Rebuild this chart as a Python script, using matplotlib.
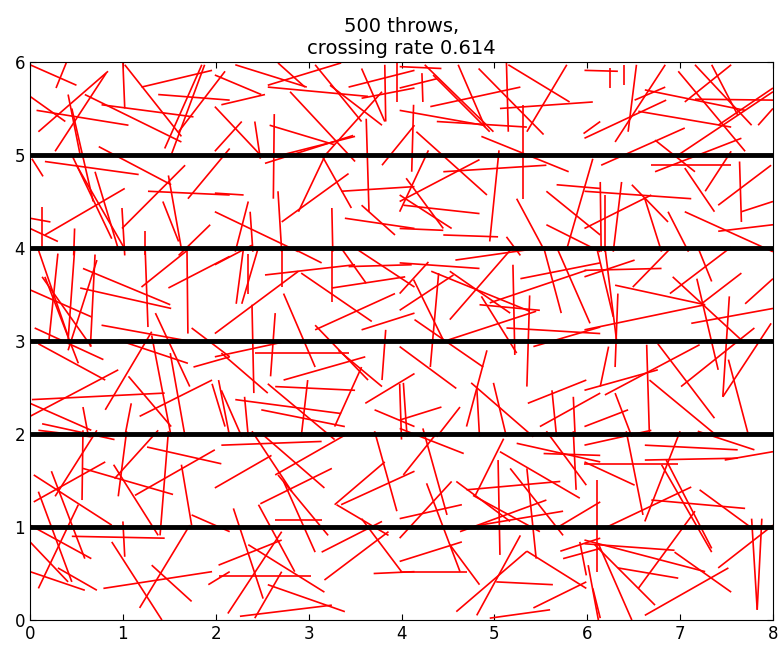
import matplotlib
matplotlib.use('Agg')
import matplotlib.pyplot as plt
from matplotlib.collections import LineCollection

# needles, (x0, y0, x1, y1), grouped by board region
top_left = [
    (0.00, 5.97, 0.50, 5.75), (0.28, 5.72, 0.39, 5.99), (0.09, 5.25, 0.84, 5.90),
    (0.27, 5.04, 0.82, 5.88), (0.00, 5.63, 0.38, 5.36), (0.07, 5.48, 1.06, 5.32),
    (0.41, 5.65, 0.54, 5.00), (0.45, 5.50, 0.68, 4.50), (1.00, 5.99, 1.02, 5.50),
    (1.02, 5.97, 1.63, 5.20), (0.77, 5.54, 1.76, 5.41), (0.59, 5.65, 1.63, 5.14),
    (1.20, 5.73, 1.96, 5.91), (1.38, 5.65, 2.15, 5.59), (1.45, 5.07, 1.85, 5.97),
    (1.52, 5.00, 1.88, 5.97), (1.60, 5.25, 2.10, 5.90), (1.70, 4.53, 2.15, 5.07),
    (0.74, 5.09, 1.52, 4.68), (0.16, 4.93, 1.17, 4.79), (0.45, 5.00, 0.88, 4.10),
    (0.50, 4.89, 1.02, 3.99), (0.70, 4.82, 0.95, 3.99), (1.02, 4.64, 0.16, 4.14),
    (1.27, 4.61, 2.15, 4.57), (1.49, 4.78, 1.63, 3.99), (1.67, 4.89, 0.99, 4.21),
    (0.02, 4.96, 0.14, 4.77), (0.13, 4.44, 0.13, 3.99), (0.00, 4.32, 0.22, 4.28),
    (0.99, 4.43, 1.02, 3.92), (1.43, 4.50, 1.60, 4.07), (1.94, 4.25, 1.60, 3.92),
    (0.00, 4.21, 0.30, 4.07), (0.48, 4.21, 0.47, 3.92), (1.24, 4.18, 1.24, 3.92),
]
top_mid_left = [
    (1.99, 5.86, 2.49, 5.65), (2.06, 5.54, 2.53, 5.65), (2.21, 5.97, 2.98, 5.73),
    (2.67, 5.99, 2.96, 5.73), (2.56, 5.75, 3.35, 5.99), (2.56, 5.73, 3.64, 5.63),
    (2.80, 5.68, 3.50, 4.93), (3.07, 5.97, 3.57, 5.36), (3.23, 5.75, 3.79, 5.32),
    (3.57, 5.93, 3.82, 5.36), (3.43, 5.73, 4.14, 5.91), (3.57, 5.61, 4.14, 5.72),
    (3.82, 5.97, 3.83, 5.36), (3.95, 5.99, 3.95, 5.57), (2.28, 5.36, 1.99, 5.04),
    (2.42, 5.36, 2.48, 4.96), (2.63, 5.44, 2.62, 4.53), (2.58, 5.32, 3.28, 5.11),
    (2.71, 5.00, 3.50, 5.20), (2.53, 4.91, 3.48, 5.21), (3.18, 5.00, 3.79, 5.68),
    (3.62, 5.39, 3.65, 4.39), (1.99, 5.52, 2.48, 5.00), (3.14, 5.00, 3.46, 4.43),
    (3.18, 5.00, 2.89, 4.39), (2.67, 4.61, 2.71, 3.96), (1.99, 4.59, 2.30, 4.57),
    (2.35, 4.50, 2.21, 3.96), (2.37, 4.39, 2.40, 3.96), (2.71, 4.28, 3.43, 4.80),
    (1.99, 4.39, 2.89, 3.96), (3.35, 4.61, 4.14, 4.66), (3.39, 4.32, 4.14, 4.21),
    (3.57, 4.46, 3.93, 4.14), (3.25, 4.43, 3.26, 3.96), (3.79, 4.89, 4.14, 5.32),
]
top_mid_right = [
    (3.98, 5.95, 4.43, 5.93), (3.98, 5.72, 4.38, 5.82), (4.22, 5.88, 4.23, 5.57),
    (4.25, 5.97, 4.99, 5.25), (4.34, 5.86, 4.95, 5.25), (4.61, 5.97, 4.90, 5.30),
    (4.83, 5.93, 5.53, 5.22), (4.31, 5.52, 5.28, 5.73), (3.98, 5.48, 4.88, 5.32),
    (4.38, 5.36, 5.35, 5.30), (5.13, 5.99, 5.15, 5.25), (5.15, 5.97, 5.81, 5.57),
    (5.31, 5.54, 5.31, 4.53), (5.06, 5.50, 6.06, 5.57), (5.35, 5.25, 5.78, 5.97),
    (5.96, 5.23, 6.14, 5.36), (4.13, 5.54, 4.11, 4.82), (4.16, 5.25, 4.92, 4.57),
    (4.86, 5.20, 5.80, 4.82), (5.05, 5.05, 4.95, 4.07), (4.84, 4.95, 3.98, 4.50),
    (3.98, 4.39, 4.29, 5.05), (3.98, 4.57, 4.54, 4.21), (4.05, 4.75, 4.45, 4.21),
    (4.45, 4.82, 5.56, 4.89), (5.24, 4.53, 5.53, 3.99), (5.56, 4.61, 6.14, 4.14),
    (5.67, 4.68, 6.14, 4.64), (5.78, 3.99, 6.06, 4.96), (3.98, 4.21, 4.45, 4.19),
    (4.45, 4.14, 5.04, 4.12), (5.56, 4.25, 6.14, 3.96), (5.13, 4.12, 5.28, 3.92),
    (4.02, 4.46, 4.84, 4.37),
]
top_right = [
    (5.97, 5.91, 6.33, 5.90), (6.24, 5.93, 6.24, 5.72), (6.40, 5.97, 6.40, 5.75),
    (6.53, 5.97, 6.44, 5.25), (6.51, 5.59, 6.84, 5.73), (6.62, 5.70, 7.70, 5.48),
    (5.97, 5.18, 6.85, 5.59), (6.30, 5.14, 6.84, 5.97), (6.98, 5.90, 7.70, 5.04),
    (7.05, 5.57, 7.55, 5.97), (7.16, 5.97, 7.77, 5.32), (7.34, 5.97, 7.62, 5.43),
    (7.16, 5.60, 8.00, 5.59), (6.55, 5.47, 7.55, 5.30), (7.84, 5.32, 8.00, 5.50),
    (7.41, 5.32, 8.00, 5.72), (6.98, 5.00, 8.00, 5.68), (6.15, 4.89, 7.05, 5.29),
    (6.73, 5.16, 7.16, 4.82), (6.69, 4.89, 7.55, 4.89), (6.73, 4.82, 7.66, 5.18),
    (7.05, 4.86, 7.37, 4.39), (7.27, 4.61, 7.55, 5.04), (7.64, 4.93, 7.66, 4.28),
    (7.41, 4.46, 7.98, 4.89), (5.97, 4.21, 6.69, 4.57), (6.14, 4.71, 6.15, 3.96),
    (6.19, 4.57, 6.19, 3.96), (6.37, 4.71, 6.28, 3.96), (5.97, 4.61, 7.12, 4.53),
    (6.48, 4.68, 6.87, 4.28), (6.62, 4.53, 6.80, 3.96), (6.87, 4.39, 7.09, 3.96),
    (7.05, 4.39, 8.00, 3.96), (7.41, 4.18, 8.00, 4.25), (7.66, 4.39, 8.00, 4.50),
]
mid_left = [
    (0.09, 3.98, 0.41, 3.05), (0.30, 3.94, 0.20, 2.97), (0.48, 3.98, 0.41, 3.01),
    (0.70, 3.93, 0.65, 2.94), (0.41, 2.90, 0.72, 3.87), (0.57, 3.78, 1.51, 3.39),
    (0.54, 3.57, 1.52, 3.35), (0.00, 3.55, 0.66, 3.26), (0.13, 3.69, 0.66, 2.94),
    (0.16, 3.69, 0.52, 2.76), (1.24, 3.98, 1.27, 3.15), (1.20, 3.58, 1.70, 3.98),
    (1.69, 3.98, 1.70, 3.08), (1.49, 3.57, 2.15, 3.91), (0.77, 3.17, 1.76, 2.99),
    (1.35, 3.30, 1.72, 2.51), (1.74, 3.14, 2.15, 2.83), (0.81, 2.26, 1.31, 3.10),
    (0.05, 3.14, 0.79, 2.80), (0.95, 3.01, 1.70, 2.76), (0.00, 2.19, 0.95, 2.69),
    (0.09, 2.97, 0.81, 2.58), (1.06, 2.62, 1.52, 2.08), (1.31, 3.06, 1.52, 1.97),
    (1.51, 2.87, 1.67, 1.97), (1.76, 2.72, 2.15, 2.83), (0.02, 2.37, 1.45, 2.44),
    (0.00, 2.33, 0.66, 2.04), (0.13, 2.11, 0.91, 1.94), (1.09, 2.33, 1.02, 1.97),
    (1.18, 2.19, 1.96, 2.58), (1.96, 2.54, 2.10, 2.08), (2.03, 2.58, 2.15, 1.97),
    (0.57, 2.29, 0.63, 1.97),
]
mid_mid_left = [
    (1.99, 3.82, 2.39, 4.03), (2.30, 4.01, 2.22, 3.40), (2.46, 4.01, 2.28, 3.40),
    (2.35, 3.94, 2.35, 3.51), (2.71, 4.01, 2.71, 3.58), (2.82, 4.00, 3.14, 3.84),
    (2.53, 3.71, 3.50, 3.82), (3.25, 4.01, 3.25, 3.42), (3.35, 4.00, 3.62, 3.62),
    (3.43, 3.80, 4.11, 3.82), (3.53, 3.98, 4.14, 3.58), (2.92, 3.73, 3.68, 3.21),
    (3.25, 3.57, 4.04, 3.69), (1.99, 3.08, 2.89, 3.75), (2.39, 3.39, 2.41, 2.44),
    (2.64, 3.30, 2.59, 2.62), (2.73, 3.51, 3.07, 2.72), (3.07, 3.17, 3.64, 2.58),
    (3.07, 3.12, 3.93, 3.51), (3.57, 3.12, 4.14, 3.30), (3.83, 3.12, 3.79, 2.58),
    (1.99, 2.83, 2.73, 2.99), (2.42, 2.87, 3.44, 2.87), (2.73, 2.58, 3.61, 2.83),
    (2.06, 2.87, 2.56, 2.44), (2.06, 2.47, 2.28, 1.97), (2.56, 2.54, 3.28, 1.94),
    (2.64, 2.51, 3.50, 2.47), (3.32, 2.90, 3.79, 2.51), (3.57, 2.72, 3.28, 2.08),
    (3.61, 2.33, 4.14, 2.65), (3.98, 2.54, 4.00, 1.94), (2.31, 2.40, 2.35, 1.97),
    (2.21, 2.37, 3.35, 2.22), (2.49, 2.26, 3.39, 2.08), (2.99, 2.58, 2.92, 1.97),
    (3.71, 2.26, 4.14, 2.08),
]
mid_mid_right = [
    (3.98, 3.84, 4.84, 3.78), (4.58, 3.87, 5.56, 4.01), (3.98, 3.51, 4.29, 3.85),
    (4.13, 3.66, 4.45, 3.01), (4.32, 3.75, 5.38, 3.32), (4.52, 3.75, 5.17, 3.30),
    (4.40, 3.73, 4.31, 2.72), (3.98, 3.33, 4.56, 3.71), (4.52, 3.23, 5.20, 4.01),
    (4.84, 3.39, 5.49, 3.33), (4.86, 3.48, 5.24, 2.87), (4.95, 3.41, 5.99, 3.76),
    (5.20, 3.82, 5.22, 2.85), (5.38, 3.49, 5.35, 2.51), (5.28, 3.67, 6.14, 3.84),
    (5.53, 4.01, 5.72, 3.30), (5.67, 4.01, 6.03, 3.19), (4.14, 3.23, 4.88, 2.72),
    (4.50, 3.01, 5.45, 3.32), (5.13, 3.14, 6.14, 3.08), (5.42, 2.94, 6.14, 3.15),
    (3.98, 2.94, 4.59, 2.49), (4.70, 2.08, 4.92, 2.90), (4.02, 2.55, 4.06, 1.97),
    (4.75, 2.55, 5.42, 1.97), (4.81, 2.51, 4.84, 1.97), (4.99, 2.55, 5.13, 1.97),
    (5.36, 2.33, 5.99, 2.58), (5.62, 2.47, 5.67, 1.97), (5.85, 2.40, 5.87, 1.97),
    (4.63, 2.29, 4.38, 1.97), (5.49, 2.08, 6.14, 2.44), (3.98, 2.15, 4.43, 2.29),
]
mid_right = [
    (5.97, 3.69, 6.51, 3.87), (6.10, 4.01, 6.28, 3.26), (5.97, 3.76, 6.80, 3.78),
    (6.19, 4.01, 6.32, 2.97), (6.49, 3.58, 6.91, 4.01), (6.30, 3.60, 7.27, 3.39),
    (6.89, 3.51, 7.55, 4.01), (7.19, 4.01, 7.34, 3.64), (6.92, 3.69, 7.66, 3.01),
    (5.97, 3.12, 7.27, 3.39), (7.18, 3.67, 7.41, 2.69), (7.53, 3.48, 7.46, 2.40),
    (7.23, 3.40, 7.66, 3.73), (7.70, 3.40, 8.00, 3.67), (7.12, 3.19, 8.00, 3.35),
    (6.33, 3.51, 6.30, 2.72), (6.23, 2.94, 6.14, 2.51), (6.64, 2.96, 6.67, 1.97),
    (6.19, 2.42, 7.21, 2.96), (6.76, 2.97, 7.37, 2.17), (7.01, 2.51, 7.80, 3.14),
    (7.46, 2.40, 7.98, 3.19), (7.52, 2.80, 7.73, 2.01), (5.97, 2.47, 6.76, 2.69),
    (6.67, 2.58, 7.41, 1.97), (6.30, 2.44, 6.48, 1.97), (5.97, 2.08, 6.44, 2.26),
]
bottom_left = [
    (0.09, 2.04, 0.66, 1.97), (0.57, 2.04, 0.56, 1.29), (0.27, 1.33, 0.72, 2.04),
    (1.04, 2.03, 0.95, 1.33), (0.91, 1.52, 1.38, 2.04), (1.26, 1.86, 2.06, 1.68),
    (1.49, 2.03, 1.40, 0.91), (0.04, 1.56, 0.88, 1.02), (0.57, 1.63, 1.54, 1.35),
    (0.04, 1.27, 0.81, 1.70), (0.23, 1.60, 0.59, 0.66), (0.90, 1.67, 1.38, 0.91),
    (1.13, 1.34, 1.99, 1.83), (1.63, 1.67, 1.74, 1.02), (0.00, 1.02, 0.66, 0.66),
    (0.09, 1.38, 0.45, 0.41), (0.00, 0.84, 0.41, 0.41), (0.45, 0.90, 1.45, 0.88),
    (0.09, 0.34, 0.52, 1.24), (1.00, 1.06, 1.02, 0.68), (0.88, 0.84, 1.42, 0.00),
    (1.18, 0.13, 1.72, 1.02), (0.79, 0.34, 1.96, 0.52), (1.31, 0.59, 1.74, 0.20),
    (0.00, 0.52, 0.59, 0.32), (0.30, 0.56, 0.72, 0.32), (1.74, 1.13, 2.15, 0.95),
    (1.92, 0.38, 2.15, 0.52),
]
bottom_mid_left = [
    (2.06, 1.88, 3.14, 1.92), (1.99, 1.42, 2.60, 1.77), (2.39, 2.03, 2.82, 1.38),
    (2.51, 1.99, 3.17, 1.42), (2.64, 1.56, 3.43, 2.01), (2.48, 1.25, 3.25, 1.63),
    (2.67, 1.56, 3.21, 0.91), (2.73, 1.49, 3.07, 0.73), (3.28, 1.24, 3.82, 1.70),
    (3.35, 1.24, 4.14, 1.60), (3.71, 2.03, 3.95, 1.17), (3.30, 1.24, 3.86, 0.91),
    (2.19, 1.20, 2.51, 0.23), (2.46, 1.24, 2.85, 0.52), (2.64, 1.08, 3.14, 1.08),
    (2.03, 0.59, 2.71, 0.86), (2.13, 0.07, 2.71, 0.95), (2.03, 0.47, 3.03, 0.47),
    (2.35, 0.81, 3.17, 0.30), (3.14, 0.73, 3.79, 1.06), (3.17, 0.43, 3.86, 0.95),
    (3.57, 1.09, 4.00, 0.52), (3.70, 0.50, 4.14, 0.52), (2.26, 0.04, 3.25, 0.16),
    (2.56, 0.38, 3.39, 0.09), (2.71, 0.52, 2.42, 0.02),
]
bottom_mid_right = [
    (3.98, 2.06, 4.67, 1.79), (4.23, 2.06, 4.49, 1.13), (4.02, 1.56, 4.38, 2.01),
    (4.27, 1.47, 4.63, 0.52), (4.59, 1.49, 5.17, 1.06), (3.98, 0.88, 4.54, 1.49),
    (3.98, 1.09, 4.65, 1.24), (4.79, 1.33, 5.10, 1.95), (4.70, 1.40, 5.71, 1.49),
    (5.04, 1.72, 5.06, 0.70), (5.06, 1.81, 5.92, 1.31), (5.17, 1.63, 5.74, 0.91),
    (5.24, 1.90, 6.14, 1.70), (5.35, 1.63, 5.45, 0.66), (5.53, 1.79, 6.14, 1.77),
    (5.85, 2.03, 5.88, 1.40), (5.56, 2.03, 5.99, 1.45), (4.63, 0.95, 5.56, 1.29),
    (4.84, 1.02, 5.74, 1.17), (4.77, 1.34, 5.49, 0.95), (3.98, 0.63, 4.65, 0.84),
    (3.98, 0.52, 4.70, 0.52), (4.52, 0.81, 4.84, 0.38), (4.59, 0.09, 5.35, 0.74),
    (4.81, 0.05, 5.28, 0.91), (5.35, 0.74, 5.99, 0.34), (5.02, 0.41, 5.63, 0.38),
    (4.95, 0.02, 5.60, 0.11), (5.42, 0.13, 5.99, 0.41), (5.71, 0.74, 6.14, 0.88),
    (5.74, 0.66, 6.14, 0.77), (5.67, 0.99, 6.14, 1.27), (5.92, 0.84, 5.99, 0.48),
    (6.06, 0.34, 6.14, 0.02),
]
bottom_right = [
    (5.97, 1.88, 6.69, 2.04), (6.42, 2.03, 6.60, 1.13), (6.62, 1.88, 7.62, 1.83),
    (6.62, 1.72, 7.62, 1.74), (5.97, 1.68, 6.98, 1.68), (7.48, 1.72, 8.00, 1.81),
    (7.19, 2.03, 7.80, 1.83), (5.97, 1.70, 6.51, 1.45), (6.80, 1.67, 7.34, 0.73),
    (6.85, 1.72, 7.34, 0.77), (6.62, 1.06, 7.00, 2.03), (6.10, 1.51, 6.10, 0.52),
    (6.19, 0.99, 7.12, 1.43), (6.69, 1.29, 7.70, 1.20), (7.21, 1.40, 7.77, 0.99),
    (5.97, 0.82, 6.94, 0.75), (5.97, 0.86, 7.27, 0.52), (6.08, 0.81, 6.73, 0.16),
    (6.12, 0.82, 6.48, 0.00), (6.94, 0.73, 7.55, 0.30), (6.55, 0.34, 7.16, 1.17),
    (6.62, 0.05, 7.52, 0.56), (7.77, 1.09, 7.83, 0.11), (7.88, 1.09, 7.83, 0.11),
    (7.41, 0.56, 8.00, 1.02), (6.01, 0.59, 6.12, 0.00), (6.33, 0.56, 6.98, 0.45),
]

floor_lines = [1, 2, 3, 4, 5]
n_throws = 500
crossing_rate = 0.614

regions = [top_left, top_mid_left, top_mid_right, top_right,
           mid_left, mid_mid_left, mid_mid_right, mid_right,
           bottom_left, bottom_mid_left, bottom_mid_right, bottom_right]

segments = []
for region in regions:
    for x0, y0, x1, y1 in region:
        segments.append([(x0, y0), (x1, y1)])

fig = plt.figure(figsize=(7.8, 6.47), dpi=100)
ax = fig.add_axes([0.0385, 0.0417, 0.9525, 0.8625])

ax.add_collection(LineCollection(segments, colors='red', linewidths=1.2))
for y in floor_lines:
    ax.axhline(y, color='black', linewidth=3.5)

ax.set_xlim(0, 8)
ax.set_ylim(0, 6)
ax.tick_params(direction='in', top=True, right=True, labelsize=12, length=4)
ax.set_title('%d throws,\ncrossing rate %.3f' % (n_throws, crossing_rate), fontsize=14)

plt.savefig('out.png', dpi=100)
